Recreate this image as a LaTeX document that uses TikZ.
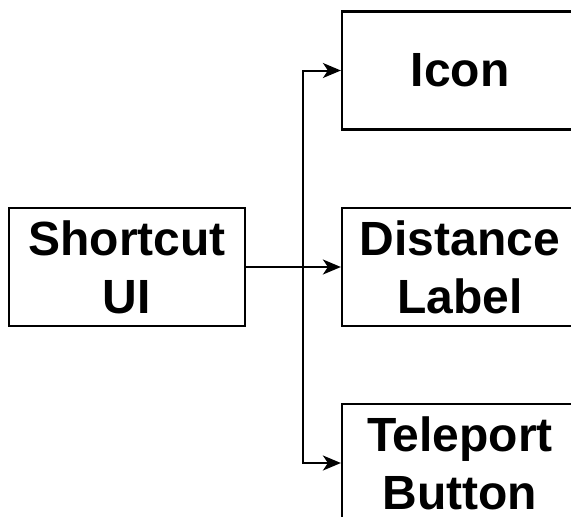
\documentclass[tikz,border=0pt]{standalone}
\usepackage{fontspec}
\setmainfont{Liberation Sans}
\usetikzlibrary{arrows.meta}
\begin{document}
\begin{tikzpicture}[x=1pt,y=-1pt,
  block/.style={draw=black, line width=2.2pt, fill=white, minimum width=236pt,
    minimum height=118pt, inner sep=0pt, align=center,
    font=\fontsize{48}{58}\selectfont\bfseries},
  link/.style={draw=black, line width=2pt,
    -{Stealth[length=18pt 0,width=15pt 0,inset=5pt 0]}}]
  \useasboundingbox (0,0) rectangle (571,517);
  \clip (0,0) rectangle (571,517);
  \node[block] (ui) at (127,267) {Shortcut\\UI};
  \node[block] (icon) at (460,70.5) {Icon};
  \node[block] (dist) at (460,267) {Distance\\Label};
  \node[block] (tele) at (460,463) {Teleport\\Button};
  \coordinate (fork) at (303,267);
  \draw[link] (ui.east) -- (dist.west);
  \draw[link] (fork) |- (icon.west);
  \draw[link] (fork) |- (tele.west);
\end{tikzpicture}
\end{document}
